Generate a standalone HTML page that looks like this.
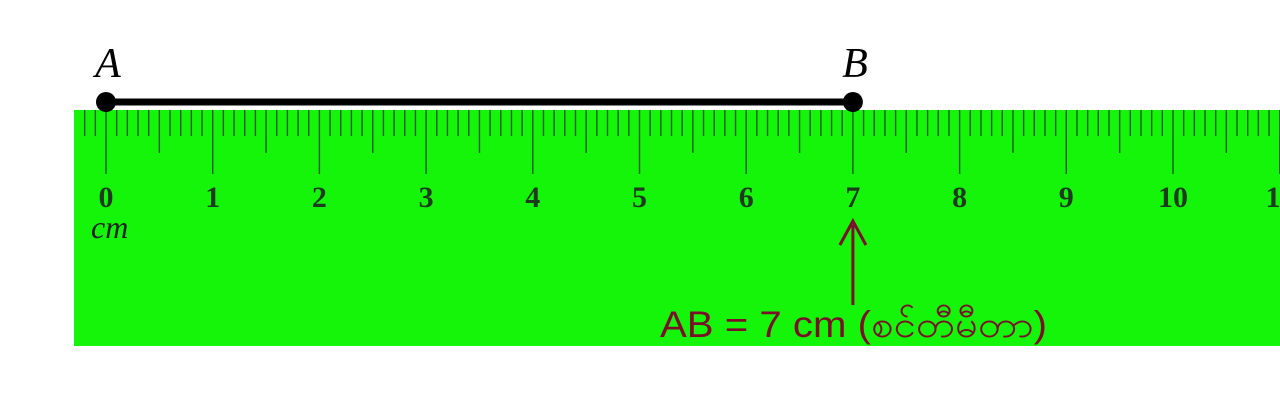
<!DOCTYPE html>
<html><head><meta charset="utf-8"><style>
body{margin:0;background:#fff;}
svg{display:block;}
</style></head><body>
<svg id="s" width="1280" height="420" viewBox="0 0 1280 420">
<rect x="74" y="110" width="1206" height="236" fill="#14f50a"/>
<g id="ticks"></g>
<g id="labels"></g>
<text x="91" y="238" font-family="Liberation Serif, serif" font-style="italic" font-size="32" fill="#222">cm</text>
<line id="seg" y1="102" y2="102" stroke="#000" stroke-width="7"/>
<circle id="pa" cy="102" r="10" fill="#000"/>
<circle id="pb" cy="102" r="10" fill="#000"/>
<text id="la" y="77" font-family="Liberation Serif, serif" font-style="italic" font-size="42" fill="#000" text-anchor="middle">A</text>
<text id="lb" y="77" font-family="Liberation Serif, serif" font-style="italic" font-size="42" fill="#000" text-anchor="middle">B</text>
<line id="arr" y1="305" y2="225" stroke="#7a0f2a" stroke-width="3"/>
<polyline id="arrh" fill="none" stroke="#7a0f2a" stroke-width="3"/>
<text x="660" y="337" textLength="387" lengthAdjust="spacingAndGlyphs" font-family="Liberation Sans, sans-serif" font-size="37" fill="#7a0f2a">AB = 7 cm (စင်တီမီတာ)</text>
</svg>
<script>
const segStart = 0;
const segEnd = 7;
const tickLabels = ["0","1","2","3","4","5","6","7","8","9","10","11"];
const x0 = 106, unit = 106.7;
function X(v){return x0 + v*unit;}
const ns="http://www.w3.org/2000/svg";
const tg=document.getElementById('ticks'), lg=document.getElementById('labels');
for(let mm=-3; mm<=113; mm++){
  const x=X(mm/10); if(x<76||x>1280) continue;
  const len = mm%10===0?64:(mm%5===0?43:26);
  const l=document.createElementNS(ns,'line');
  
  
  l.setAttribute('x1',x);l.setAttribute('x2',x);l.setAttribute('y1',110);l.setAttribute('y2',110+len);
  l.setAttribute('stroke','#1a5a1a');l.setAttribute('stroke-width',1.4);
  tg.appendChild(l);
}
tickLabels.forEach((t,i)=>{
  const e=document.createElementNS(ns,'text');
  
  
  e.setAttribute('x',X(i));e.setAttribute('y',207);e.setAttribute('text-anchor','middle');
  e.setAttribute('font-family','Liberation Serif, serif');e.setAttribute('font-size','30');e.setAttribute('font-weight','bold');e.setAttribute('fill','#1e3a1e');
  e.textContent=t;lg.appendChild(e);
});
const a=X(segStart), b=X(segEnd);
const seg=document.getElementById('seg');seg.setAttribute('x1',a);seg.setAttribute('x2',b);
document.getElementById('pa').setAttribute('cx',a);
document.getElementById('pb').setAttribute('cx',b);
document.getElementById('la').setAttribute('x',a+2);
document.getElementById('lb').setAttribute('x',b+2);
const arr=document.getElementById('arr');arr.setAttribute('x1',b);arr.setAttribute('x2',b);
document.getElementById('arrh').setAttribute('points',`${b-13},245 ${b},221 ${b+13},245`);
</script>
</body></html>
